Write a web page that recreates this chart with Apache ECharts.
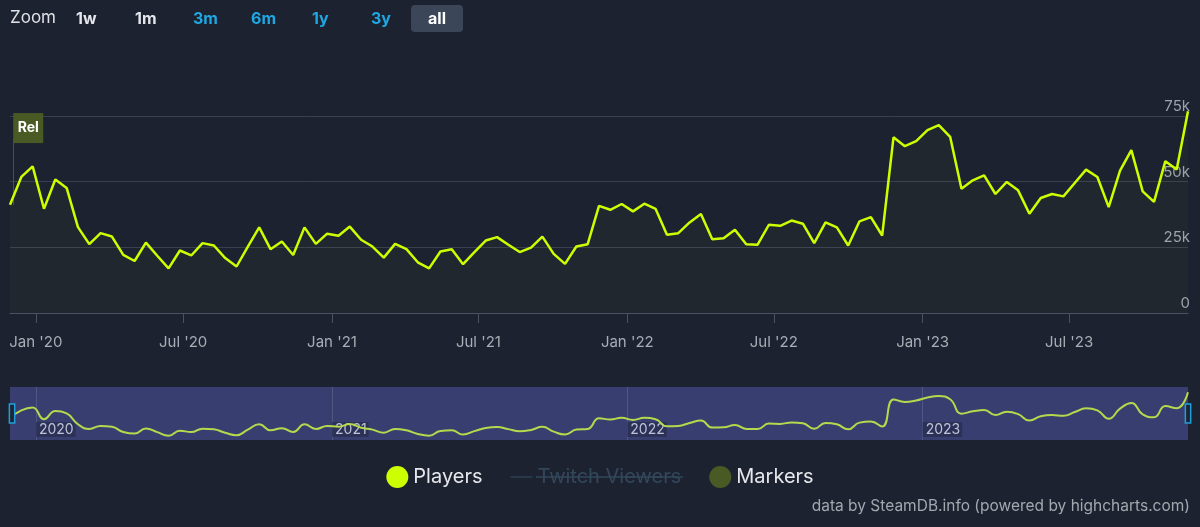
<!DOCTYPE html>
<html lang="en" style="height: 100%">
<head>
  <meta charset="utf-8" />
  <title>Players - SteamDB</title>
</head>
<body style="height: 100%; margin: 0; background: #1d2231">
  <div id="container" style="width: 1200px; height: 527px"></div>

  <script type="text/javascript" src="https://fastly.jsdelivr.net/npm/echarts@6.0.0/dist/echarts.min.js"></script>

  <script type="text/javascript">
    // biweekly samples, first one on this day
    var startDate = '2019-11-30';
    var stepDays = 14;

    // concurrent players
    var players = [
      41200, 51800, 55800, 39700, 50800, 47600, 32700, 26200, 30400, 29100,
      22100, 19800, 26800, 21800, 17000, 23800, 21900, 26600, 25700, 20900,
      17700, 25300, 32600, 24300, 27200, 22100, 32600, 26300, 30200, 29400,
      32900, 27900, 25300, 21100, 26300, 24300, 19300, 17000, 23400, 24300,
      18600, 23200, 27600, 28900, 26000, 23200, 24900, 29100, 22500, 18700,
      25300, 26200, 40800, 39300, 41500, 38700, 41600, 39600, 29800, 30400,
      34500, 37700, 28100, 28500, 31700, 26200, 26000, 33600, 33200, 35200,
      34000, 26600, 34500, 32600, 25700, 34900, 36500, 29500, 66900, 63500,
      65400, 69600, 71500, 67100, 47300, 50500, 52400, 45300, 49900, 46700,
      37800, 43800, 45300, 44400, 49500, 54600, 51800, 40300, 54200, 62000,
      46300, 42300, 57800, 54600, 76800
    ];

    var tickDates = ['2020-01-01', '2020-07-01', '2021-01-01', '2021-07-01',
                     '2022-01-01', '2022-07-01', '2023-01-01', '2023-07-01'];
    var tickLabels = ["Jan '20", "Jul '20", "Jan '21", "Jul '21",
                      "Jan '22", "Jul '22", "Jan '23", "Jul '23"];

    var navDates = ['2020-01-01', '2021-01-01', '2022-01-01', '2023-01-01'];
    var navLabels = ['2020', '2021', '2022', '2023'];

    var markers = [{ date: '2019-12-04', label: 'Rel', value: 70400 }];

    var zoomButtons = ['1w', '1m', '3m', '6m', '1y', '3y', 'all'];

    var DAY = 86400000;
    var t0 = Date.parse(startDate);
    var seriesData = players.map(function (v, i) {
      return [t0 + i * stepDays * DAY, v];
    });
    var xMin = t0;
    var xMax = t0 + (players.length - 1) * stepDays * DAY;

    function labelFor(dates, labels) {
      var ts = dates.map(function (d) { return Date.parse(d); });
      return function (val) {
        var best = 0;
        for (var i = 1; i < ts.length; i++) {
          if (Math.abs(ts[i] - val) < Math.abs(ts[best] - val)) best = i;
        }
        return labels[best];
      };
    }

    var FONT = 'Inter, "Noto Sans", sans-serif';

    // range selector row (just text, like highcharts draws it)
    var btnX = [76, 135, 193, 251, 312, 371, 437];
    var btnColor = ['#e4e6ea', '#e4e6ea', '#1ea7e1', '#1ea7e1', '#1ea7e1', '#1ea7e1', '#ffffff'];
    var graphics = [
      { type: 'text', left: 10, top: 9,
        style: { text: 'Zoom', fill: '#dfe1e5', font: '17px ' + FONT } },
      { type: 'rect', shape: { x: 411, y: 5, width: 52, height: 27, r: 4 },
        style: { fill: '#3b4658' } }
    ];
    zoomButtons.forEach(function (b, i) {
      graphics.push({
        type: 'text', x: btnX[i], y: 19,
        style: {
          text: b, fill: btnColor[i], font: 'bold 16px ' + FONT,
          align: i === 6 ? 'center' : 'left', verticalAlign: 'middle'
        }
      });
    });
    graphics.push({
      type: 'text', right: 10, top: 498,
      style: { text: 'data by SteamDB.info (powered by highcharts.com)', fill: '#a3a7ae', font: '15.5px ' + FONT }
    });
    // hidden series gets struck through in the legend
    graphics.push({
      type: 'line', shape: { x1: 536, y1: 477, x2: 683, y2: 477 },
      style: { stroke: '#33475b', lineWidth: 1.5 }, z: 10
    });

    var dom = document.getElementById('container');
    var myChart = echarts.init(dom, null, { renderer: 'canvas' });

    var option = {
      backgroundColor: '#1d2231',
      animation: false,
      textStyle: { fontFamily: FONT },
      graphic: graphics,
      legend: {
        top: 461,
        left: 'center',
        itemWidth: 22,
        itemHeight: 22,
        itemGap: 28,
        textStyle: { color: '#e6e8eb', fontSize: 20, fontFamily: FONT },
        inactiveColor: '#33475b',
        selected: { 'Twitch Viewers': false },
        data: [
          { name: 'Players', icon: 'circle' },
          { name: 'Twitch Viewers', icon: 'path://M0,0 H24 V1.2 H0 Z' },
          { name: 'Markers', icon: 'circle', itemStyle: { borderWidth: 0 } }
        ]
      },
      grid: [
        { left: 10, right: 12, top: 116, height: 197 },
        { left: 10, right: 12, top: 387, height: 53, show: true,
          backgroundColor: '#383f70', borderWidth: 0 }
      ],
      xAxis: [
        {
          type: 'value', gridIndex: 0, min: xMin, max: xMax,
          axisLine: { lineStyle: { color: '#4b5162', width: 1 } },
          axisTick: { show: true, length: 10, customValues: tickDates.map(Date.parse),
                      lineStyle: { color: '#4b5162' } },
          axisLabel: {
            customValues: tickDates.map(Date.parse),
            formatter: labelFor(tickDates, tickLabels),
            color: '#a9adb5', fontSize: 15, margin: 22, fontFamily: FONT
          },
          splitLine: { show: false }
        },
        {
          type: 'value', gridIndex: 1, min: xMin, max: xMax,
          axisLine: { show: false },
          axisTick: { show: true, inside: true, length: 53, customValues: navDates.map(Date.parse),
                      lineStyle: { color: 'rgba(255,255,255,0.13)' } },
          axisLabel: {
            inside: true,
            customValues: navDates.map(Date.parse),
            formatter: labelFor(navDates, navLabels),
            color: '#bfc2d6', fontSize: 14, margin: 3, align: 'left',
            verticalAlign: 'bottom', padding: [1, 2, 0, 3],
            backgroundColor: 'rgba(40,45,80,0.75)', fontFamily: FONT
          },
          splitLine: { show: false }
        }
      ],
      yAxis: [
        {
          type: 'value', gridIndex: 0, position: 'right', min: 0, max: 75000, interval: 25000,
          axisLine: { show: false },
          axisTick: { show: false },
          axisLabel: {
            inside: true, margin: -2, verticalAlign: 'bottom', padding: [0, 0, 2, 0],
            color: '#9ca1ab', fontSize: 15, fontFamily: FONT,
            formatter: function (v) { return v === 0 ? '0' : (v / 1000) + 'k'; }
          },
          splitLine: { lineStyle: { color: '#3a4050', width: 1 } }
        },
        {
          type: 'value', gridIndex: 1, min: 11000, max: 84000,
          show: false, splitLine: { show: false }
        }
      ],
      dataZoom: [{
        type: 'slider', xAxisIndex: 0, filterMode: 'none',
        left: 10, right: 12, top: 387, height: 53,
        start: 0, end: 100,
        backgroundColor: 'rgba(0,0,0,0)', borderColor: 'rgba(0,0,0,0)',
        fillerColor: 'rgba(0,0,0,0)',
        showDataShadow: false, showDetail: false, brushSelect: false,
        moveHandleSize: 0,
        handleIcon: 'path://M0,0 H10 V36 H0 Z',
        handleSize: '36%',
        handleStyle: { color: '#1f2534', borderColor: '#1ea0dc', borderWidth: 1.5 },
        emphasis: { handleStyle: { color: '#1f2534', borderColor: '#1ea0dc' } }
      }],
      series: [
        {
          name: 'Players', type: 'line', xAxisIndex: 0, yAxisIndex: 0,
          data: seriesData, showSymbol: false, clip: false, z: 5,
          color: '#ccff00',
          lineStyle: { color: '#ccff00', width: 2.5 },
          areaStyle: { color: 'rgba(204,255,0,0.035)' }
        },
        {
          name: 'Players', type: 'line', xAxisIndex: 1, yAxisIndex: 1,
          data: seriesData, showSymbol: false, smooth: 0.5, silent: true,
          color: '#ccff00',
          lineStyle: { color: '#b4d94c', width: 2 }
        },
        {
          name: 'Twitch Viewers', type: 'line', xAxisIndex: 0, yAxisIndex: 0,
          data: [], color: '#2d4156'
        },
        {
          name: 'Markers', type: 'scatter', xAxisIndex: 0, yAxisIndex: 0, z: 6,
          color: '#4a5a24',
          symbol: 'rect', symbolSize: [30, 30], symbolOffset: ['50%', 0],
          itemStyle: { color: '#4a5a24', opacity: 1 },
          label: {
            show: true, position: 'inside',
            formatter: function (p) { return p.data[2]; },
            color: '#ffffff', fontWeight: 'bold', fontSize: 14, fontFamily: FONT
          },
          data: markers.map(function (m) { return [Date.parse(m.date), m.value, m.label]; }),
          markLine: {
            silent: true, symbol: 'none', label: { show: false },
            lineStyle: { color: '#4a5a24', width: 1, type: 'solid', opacity: 1 },
            data: markers.map(function (m) {
              return [{ coord: [Date.parse(m.date), m.value - 4000] },
                      { coord: [Date.parse(m.date), players[0]] }];
            })
          }
        }
      ]
    };

    myChart.setOption(option);
    window.addEventListener('resize', myChart.resize);
  </script>
</body>
</html>
